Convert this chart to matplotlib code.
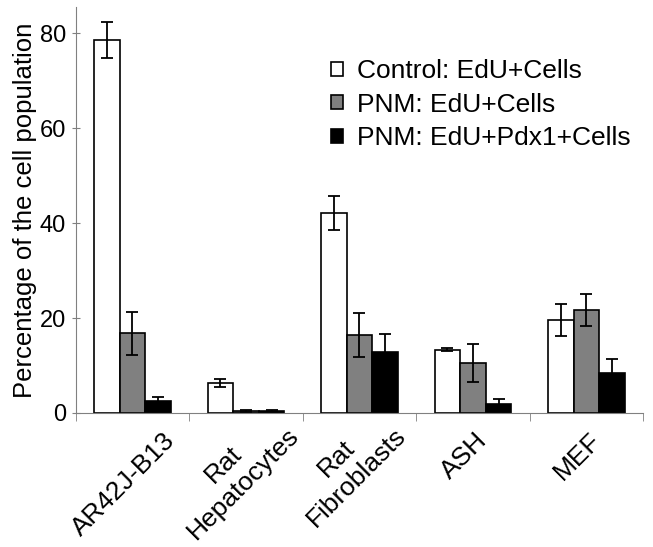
import matplotlib
matplotlib.use('Agg')
import matplotlib.pyplot as plt
import matplotlib.transforms as mtransforms
import numpy as np

plt.rcParams['font.family'] = ['Liberation Sans', 'DejaVu Sans']

categories = ['AR42J-B13', 'Rat\nHepatocytes', 'Rat\nFibroblasts', 'ASH', 'MEF']
series = ['Control: EdU+Cells', 'PNM: EdU+Cells', 'PNM: EdU+Pdx1+Cells']
control = [78.5, 6.3, 42.1, 13.3, 19.6]
control_err = [3.8, 0.9, 3.6, 0.3, 3.3]
pnm = [16.8, 0.5, 16.4, 10.5, 21.7]
pnm_err = [4.5, 0.2, 4.6, 4.0, 3.3]
pdx1 = [2.5, 0.5, 12.8, 1.9, 8.4]
pdx1_err = [0.9, 0.2, 3.8, 1.0, 3.0]
colors = ['white', '#808080', 'black']

fig = plt.figure(figsize=(6.53, 5.47), dpi=100)
ax = fig.add_axes([0.116, 0.245, 0.869, 0.742])

x = np.arange(len(categories))
w = 0.225
for i, (vals, errs) in enumerate([(control, control_err), (pnm, pnm_err), (pdx1, pdx1_err)]):
    ax.bar(x + (i - 1) * w, vals, w, yerr=errs, color=colors[i], edgecolor='black',
           linewidth=1.2, label=series[i],
           error_kw=dict(ecolor='black', elinewidth=1.3, capsize=4, capthick=1.3))

ax.set_xlim(-0.5, len(categories) - 0.5)
ax.set_ylim(0, 85.5)
ax.set_yticks([0, 20, 40, 60, 80])
ax.set_xticks(x)
ax.set_xticklabels([])
ax.tick_params(axis='x', which='major', length=0)

# category labels drawn by hand so the two-line ones can be nudged up
base = mtransforms.blended_transform_factory(ax.transData, ax.transAxes)
for xi, name in zip(x, categories):
    if '\n' in name:
        dx, dy = -13, 9
    else:
        dx, dy = -9, -15
    off = mtransforms.ScaledTranslation(dx / 100, dy / 100, fig.dpi_scale_trans)
    ax.text(xi, 0, name, transform=base + off, rotation=45, ha='center', va='top',
            multialignment='center', fontsize=19, clip_on=False)

ax.set_xticks(np.arange(-0.5, len(categories) + 0.5, 1), minor=True)
ax.tick_params(axis='x', which='minor', length=6, color='#808080', direction='out')
ax.tick_params(axis='y', length=6, color='#808080', direction='inout', labelsize=17, pad=4)
ax.set_ylabel('Percentage of the cell population', fontsize=18.5, labelpad=2)

for s in ['top', 'right']:
    ax.spines[s].set_visible(False)
for s in ['left', 'bottom']:
    ax.spines[s].set_color('#808080')

fig.legend(loc='upper left', bbox_to_anchor=(331 / 653, 1 - 59 / 547), frameon=False,
           fontsize=19, handlelength=0.45, handleheight=0.45, handletextpad=0.55,
           labelspacing=0.36, borderpad=0, borderaxespad=0)

fig.savefig('out.png', dpi=100)
